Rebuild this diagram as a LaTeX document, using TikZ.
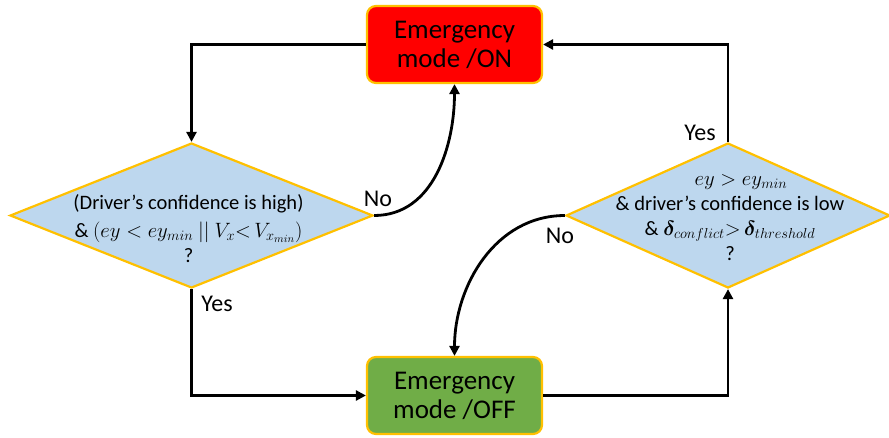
\documentclass[tikz,border=0pt]{standalone}
\usepackage{amsmath,amssymb,bm}
\usepackage{fontspec}
\setmainfont{Carlito}
\usetikzlibrary{positioning,arrows.meta,shapes.geometric}
\definecolor{amber}{RGB}{255,192,0}
\definecolor{alarmred}{RGB}{255,0,0}
\definecolor{calmgreen}{RGB}{112,173,71}
\definecolor{paleblue}{RGB}{189,215,238}
\newcommand{\condm}[1]{{\fontsize{22}{25}\selectfont$#1$}}
\tikzset{
  modebox/.style={rectangle,rounded corners=9pt,draw=amber,line width=2.2pt,minimum width=175pt,minimum height=77pt,inner sep=0pt,align=center,font=\fontsize{27}{29}\selectfont},
  test/.style={diamond,draw=amber,fill=paleblue,line width=2.2pt,inner sep=0pt,minimum width=#1,minimum height=145pt},
  testtxt/.style={align=center,inner sep=0pt,font=\fontsize{20.5}{25}\selectfont},
  flow/.style={line width=2.8pt,-{Triangle[length=10pt,width=10pt]}},
  blab/.style={inner sep=0pt,font=\fontsize{24}{28}\selectfont}
}
\begin{document}
\begin{tikzpicture}[x=1pt,y=-1pt]
  \useasboundingbox (0,0) rectangle (889,437);
  \node[modebox,fill=alarmred] (on) at (454.5,44.5) {Emergency\\mode /ON};
  \node[modebox,fill=calmgreen] (off) at (454.5,395.5) {Emergency\\mode /OFF};
  \node[test=363pt] (hi) at (191.5,215.5) {};
  \node[test=324pt] (lo) at (728,215.5) {};
  \node[testtxt] (hitxt) at ([xshift=-3pt,yshift=-13pt]hi.center) {(Driver's confidence is high)\\[3pt]
    \& \condm{(ey < ey_{min}\ ||\ V_x {<}\, V_{x_{min}})}\\?};
  \node[testtxt] (lotxt) at ([xshift=2pt,yshift=-2pt]lo.center) {\hspace*{22pt}\condm{ey > ey_{min}}\\
    \& driver's confidence is low\\
    \& \condm{\bm{\delta}_{conflict}{>}\,\bm{\delta}_{threshold}}\hspace*{36pt}\\?};
  % loop
  \draw[flow] (on.west) -| (hi.north);
  \draw[flow] (hi.south) |- (off.west);
  \draw[flow] (hi.east) to[out=0,in=-90] (on.south);
  \draw[flow] (off.east) -| (lo.south);
  \draw[flow] (lo.north) |- (on.east);
  \draw[flow] (lo.west) to[out=180,in=90] (off.north);
  \node[blab] (nohi) at (378,199) {No};
  \node[blab] (yeshi) at (217,304) {Yes};
  \node[blab] (nolo) at (560,236) {No};
  \node[blab] (yeslo) at (700,133) {Yes};
\end{tikzpicture}
\end{document}
